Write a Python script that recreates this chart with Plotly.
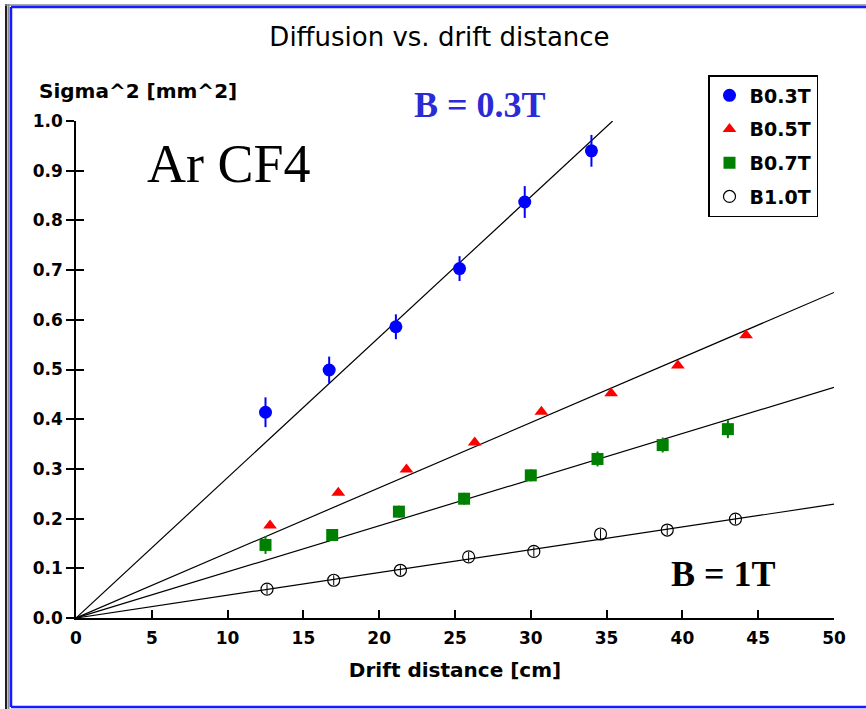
import plotly.graph_objects as go

# ---------------- data ----------------
series_names = ["B0.3T", "B0.5T", "B0.7T", "B1.0T"]

x_03 = [12.5, 16.7, 21.1, 25.3, 29.6, 34.0]
y_03 = [0.414, 0.499, 0.586, 0.703, 0.837, 0.940]
e_03 = [0.030, 0.027, 0.025, 0.025, 0.032, 0.032]

x_05 = [12.8, 17.3, 21.8, 26.3, 30.7, 35.3, 39.7, 44.2]
y_05 = [0.186, 0.252, 0.299, 0.353, 0.415, 0.452, 0.508, 0.569]

x_07 = [12.5, 16.9, 21.3, 25.6, 30.0, 34.4, 38.7, 43.0]
y_07 = [0.147, 0.167, 0.214, 0.240, 0.287, 0.320, 0.348, 0.380]
e_07 = [0.018, 0.012, 0.012, 0.012, 0.012, 0.015, 0.015, 0.018]

x_10 = [12.6, 17.0, 21.4, 25.9, 30.2, 34.6, 39.0, 43.5]
y_10 = [0.058, 0.076, 0.096, 0.123, 0.134, 0.169, 0.177, 0.199]
e_10 = [0.010, 0.010, 0.010, 0.010, 0.010, 0.010, 0.010, 0.010]

# linear fits through the origin: sigma^2 = slope * drift
fit_slopes = [0.02825, 0.0131, 0.00928, 0.00458]

x_ticks = [0, 5, 10, 15, 20, 25, 30, 35, 40, 45, 50]
y_ticks = [0.0, 0.1, 0.2, 0.3, 0.4, 0.5, 0.6, 0.7, 0.8, 0.9, 1.0]
x_range = [0, 50]
y_range = [0, 1.0]

# ---------------- layout geometry ----------------
W, H = 866, 709
L, R, T, B = 76, 32, 121, 91
PW, PH = W - L - R, H - T - B


def px_x(px):
    return (px - L) / PW


def px_y(py):
    return (H - B - py) / PH


SANS = "DejaVu Sans"
SERIF = "Liberation Serif"

fig = go.Figure()

# fit lines
for s in fit_slopes:
    x_end = min(x_range[1], y_range[1] / s)
    fig.add_trace(go.Scatter(
        x=[0, x_end], y=[0, s * x_end], mode="lines",
        line=dict(color="black", width=1.2), showlegend=False, hoverinfo="skip"))

fig.add_trace(go.Scatter(
    x=x_03, y=y_03, mode="markers", name=series_names[0], legendgroup="g1",
    marker=dict(symbol="circle", size=13, color="#0000ff"),
    error_y=dict(type="data", array=e_03, color="#0000ff", thickness=2, width=0)))

fig.add_trace(go.Scatter(
    x=x_05, y=y_05, mode="markers", name=series_names[1], legendgroup="g2",
    marker=dict(symbol="triangle-up", size=12, color="#ff0000")))

fig.add_trace(go.Scatter(
    x=x_07, y=y_07, mode="markers", name=series_names[2], legendgroup="g3",
    marker=dict(symbol="square", size=12, color="#008000"),
    error_y=dict(type="data", array=e_07, color="#008000", thickness=2, width=0)))

fig.add_trace(go.Scatter(
    x=x_10, y=y_10, mode="markers", name=series_names[3], legendgroup="g4",
    marker=dict(symbol="circle-open", size=12, color="black", line=dict(width=1.2)),
    error_y=dict(type="data", array=e_10, color="black", thickness=1, width=0)))

tick_font = dict(family=SANS, size=17, color="black", weight="bold")

fig.update_layout(
    width=W, height=H,
    margin=dict(l=L, r=R, t=T, b=B),
    paper_bgcolor="white", plot_bgcolor="white",
    title=dict(text="Diffusion vs. drift distance", x=439.5 / W, xanchor="center",
               y=1 - 37 / H, yanchor="middle",
               font=dict(family=SANS, size=26, color="black")),
    xaxis=dict(range=x_range, tickvals=x_ticks, ticktext=[str(v) for v in x_ticks],
               showgrid=False, zeroline=False, showline=True, linecolor="black",
               linewidth=1.5, ticks="inside", ticklen=8, tickwidth=1.5, tickcolor="black",
               tickfont=tick_font, ticklabelstandoff=4,
               title=dict(text="Drift distance [cm]", standoff=16,
                          font=dict(family=SANS, size=20, color="black", weight="bold"))),
    yaxis=dict(range=y_range, tickvals=y_ticks, ticktext=[f"{v:.1f}" for v in y_ticks],
               showgrid=False, zeroline=False, showline=True, linecolor="black",
               linewidth=1.5, ticks="outside", ticklen=8, tickwidth=1.5, tickcolor="black",
               tickfont=tick_font),
    yaxis2=dict(range=y_range, tickvals=y_ticks, overlaying="y", side="left",
                showgrid=False, zeroline=False, showline=False, ticks="inside",
                ticklen=8, tickwidth=1.5, tickcolor="black", showticklabels=False),
    legend=dict(x=px_x(708), y=px_y(75), xanchor="left", yanchor="top",
                bordercolor="black", borderwidth=1.5, bgcolor="white",
                font=dict(family=SANS, size=19, color="black", weight="bold"),
                traceorder="grouped", tracegroupgap=6, itemwidth=30),
    showlegend=True,
)

# invisible trace so the overlaying tick axis is drawn
fig.add_trace(go.Scatter(x=[None], y=[None], yaxis="y2", showlegend=False, hoverinfo="skip"))

annotations = [
    dict(text="Sigma^2 [mm^2]", x=px_x(37), y=px_y(91), xanchor="left", yanchor="middle",
         font=dict(family=SANS, size=20, color="black", weight="bold")),
    dict(text="Ar CF4", x=px_x(145), y=px_y(164), xanchor="left", yanchor="middle",
         font=dict(family=SERIF, size=54, color="black")),
    dict(text="<b>B = 0.3T</b>", x=px_x(412), y=px_y(105), xanchor="left", yanchor="middle",
         font=dict(family=SERIF, size=36, color="#2a2ad6")),
    dict(text="<b>B = 1T</b>", x=px_x(669), y=px_y(574), xanchor="left", yanchor="middle",
         font=dict(family=SERIF, size=36, color="black")),
]
for a in annotations:
    fig.add_annotation(xref="paper", yref="paper", showarrow=False, **a)

# outer frame: dark shadow on left/top and a blue border
frame = [
    dict(x0=px_x(6), x1=px_x(6), y0=px_y(4), y1=px_y(712), color="#202020", width=2),
    dict(x0=px_x(8.5), x1=px_x(8.5), y0=px_y(4), y1=px_y(712), color="#8a8a9a", width=2),
    dict(x0=px_x(5), x1=px_x(870), y0=px_y(5), y1=px_y(5), color="#8a8a9a", width=1.5),
    dict(x0=px_x(11), x1=px_x(11), y0=px_y(7), y1=px_y(707), color="#1a1aff", width=2.5),
    dict(x0=px_x(11), x1=px_x(870), y0=px_y(7), y1=px_y(7), color="#1a1aff", width=2.5),
    dict(x0=px_x(11), x1=px_x(870), y0=px_y(707), y1=px_y(707), color="#1a1aff", width=2.5),
]
for f in frame:
    fig.add_shape(type="line", xref="paper", yref="paper", x0=f["x0"], x1=f["x1"],
                  y0=f["y0"], y1=f["y1"], line=dict(color=f["color"], width=f["width"]))

fig.write_html("out.html")
